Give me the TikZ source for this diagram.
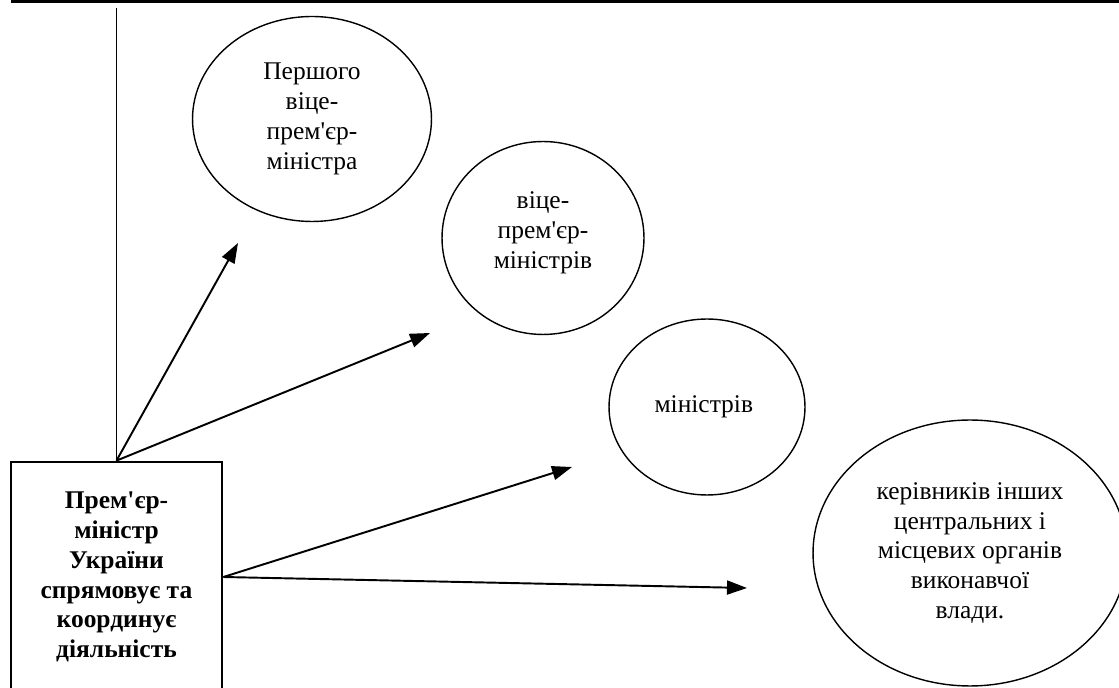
\documentclass[tikz,border=0pt]{standalone}
\usepackage{fontspec}
\setmainfont{Liberation Serif}[Ligatures=TeXOff]
\usetikzlibrary{shapes.geometric,arrows.meta}

\begin{document}
\begin{tikzpicture}[
    x=0.02cm, y=-0.02cm,
    pmbox/.style={draw, line width=1.6pt, minimum width=4.22cm,
                  minimum height=4.6cm, align=center, inner sep=0pt,
                  font=\fontsize{14.5}{17}\selectfont\bfseries},
    oval/.style={ellipse, draw, line width=0.8pt, align=center, inner sep=0pt,
                 font=\fontsize{14.5}{17}\selectfont},
    conn/.style={line width=1.1pt, -{Triangle[length=0.4cm, width=0.28cm]}},
]
\useasboundingbox (0,0) rectangle (1119,688);
\clip (0,0) rectangle (1119,688);

% Рамка зверху
\draw[line width=1.4pt] (11,1.5) -- (1119,1.5);

% Прем'єр-міністр
\node[pmbox] (pm) at (116.5,577) {
    Прем'єр-\\
    міністр\\
    України\\
    спрямовує та\\
    координує\\
    діяльність
};

% Кого спрямовує
\node[oval, minimum width=4.78cm, minimum height=4.1cm] (first) at (312,119) {
    Першого\\віце-\\прем'єр-\\міністра
};
\node[oval, minimum width=4.04cm, minimum height=3.86cm] (vice) at (543,238) {
    віце-\\прем'єр-\\міністрів\\[-8pt]
};
\node[oval, minimum width=3.92cm, minimum height=3.52cm] (min) at (707,407) {
    міністрів
};
\node[oval, minimum width=6.28cm, minimum height=5.32cm] (heads) at (970,553) {
    керівників інших\\
    центральних і\\
    місцевих органів\\
    виконавчої\\
    влади.
};

% Кінці стрілок
\coordinate (top) at (116.5,8);
\coordinate (a1) at (238,243);
\coordinate (a2) at (430,333);
\coordinate (a3) at (572,467);
\coordinate (a4) at (747,588);

% Стрілки
\draw[line width=0.8pt] (pm.north) -- (top);
\draw[conn] (pm.north) -- (a1);
\draw[conn] (pm.north) -- (a2);
\draw[conn] (pm.east) -- (a3);
\draw[conn] (pm.east) -- (a4);

\end{tikzpicture}
\end{document}
